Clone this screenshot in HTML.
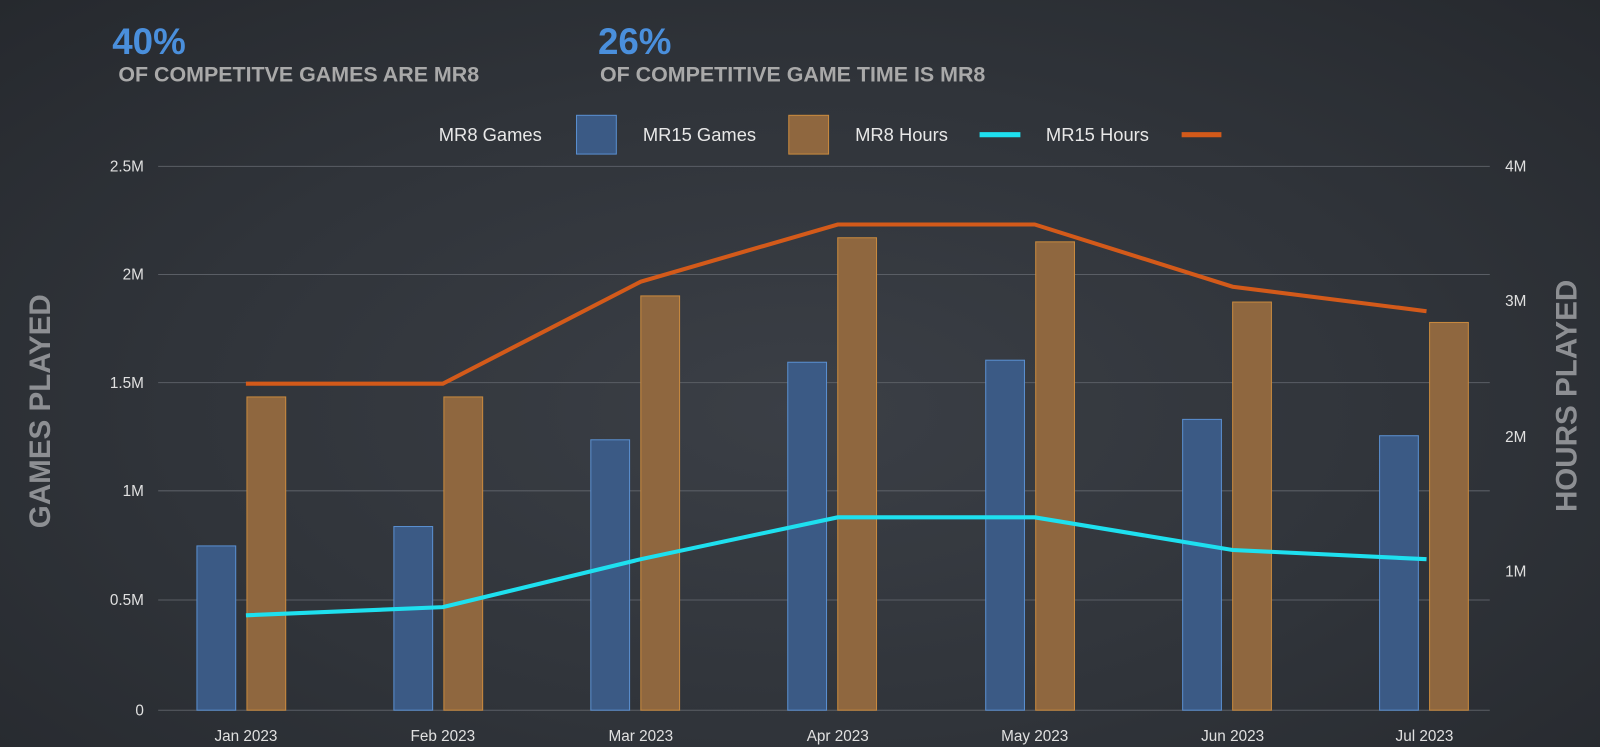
<!DOCTYPE html>
<html><head><style>
html,body{margin:0;padding:0}
body{width:1600px;height:747px;overflow:hidden;background:radial-gradient(ellipse at 50% 55%,#3b3f46 0%,#30343a 55%,#26292e 100%);font-family:"Liberation Sans",sans-serif}
</style></head><body>
<svg width="1600" height="747" xmlns="http://www.w3.org/2000/svg" style="position:absolute;left:0;top:0;font-family:'Liberation Sans',sans-serif">
<g transform="scale(1.0204)">
<text x="110" y="53" font-size="36" font-weight="bold" fill="#4a8fdc">40%</text>
<text x="116" y="80" font-size="21" font-weight="bold" fill="#a9a9a9">OF COMPETITVE GAMES ARE MR8</text>
<text x="586" y="53" font-size="36" font-weight="bold" fill="#4a8fdc">26%</text>
<text x="588" y="80" font-size="21" font-weight="bold" fill="#a9a9a9">OF COMPETITIVE GAME TIME IS MR8</text>
<g font-size="18" fill="#e8e8e8">
<text x="430" y="138">MR8 Games</text>
<rect x="565" y="113" width="39" height="38" fill="#3b5a85" stroke="#5a8fd0"/>
<text x="630" y="138">MR15 Games</text>
<rect x="773" y="113" width="39" height="38" fill="#8f673f" stroke="#c98a3e"/>
<text x="838" y="138">MR8 Hours</text>
<line x1="960" y1="132" x2="1000" y2="132" stroke="#1ee0ef" stroke-width="5"/>
<text x="1025" y="138">MR15 Hours</text>
<line x1="1158" y1="132" x2="1197" y2="132" stroke="#d35a1a" stroke-width="5"/>
</g>
<g stroke="#5a5e65" stroke-width="1">
<line x1="155" y1="163" x2="1460" y2="163"/><line x1="155" y1="269" x2="1460" y2="269"/>
<line x1="155" y1="375" x2="1460" y2="375"/><line x1="155" y1="481" x2="1460" y2="481"/>
<line x1="155" y1="588" x2="1460" y2="588"/><line x1="155" y1="696" x2="1460" y2="696"/>
</g>
<g font-size="15" fill="#e0e0e0" text-anchor="end">
<text x="141" y="168">2.5M</text><text x="141" y="274">2M</text><text x="141" y="380">1.5M</text>
<text x="141" y="486">1M</text><text x="141" y="593">0.5M</text><text x="141" y="701">0</text>
</g>
<g font-size="15" fill="#e0e0e0">
<text x="1475" y="168">4M</text><text x="1475" y="300">3M</text><text x="1475" y="433">2M</text><text x="1475" y="565">1M</text>
</g>
<g fill="#3b5a85" stroke="#5a8fd0" stroke-width="1">
<rect x="193" y="535" width="38" height="161"/><rect x="386" y="516" width="38" height="180"/>
<rect x="579" y="431" width="38" height="265"/><rect x="772" y="355" width="38" height="341"/>
<rect x="966" y="353" width="38" height="343"/><rect x="1159" y="411" width="38" height="285"/>
<rect x="1352" y="427" width="38" height="269"/>
</g>
<g fill="#8f673f" stroke="#c98a3e" stroke-width="1">
<rect x="242" y="389" width="38" height="307"/><rect x="435" y="389" width="38" height="307"/>
<rect x="628" y="290" width="38" height="406"/><rect x="821" y="233" width="38" height="463"/>
<rect x="1015" y="237" width="38" height="459"/><rect x="1208" y="296" width="38" height="400"/>
<rect x="1401" y="316" width="38" height="380"/>
</g>
<polyline fill="none" stroke="#d35a1a" stroke-width="4" points="241,376 434,376 628,276 821,220 1014,220 1208,281 1398,305"/>
<polyline fill="none" stroke="#1ee0ef" stroke-width="4" points="241,603 434,595 628,548 821,507 1014,507 1208,539 1398,548"/>
<g font-size="15" fill="#e0e0e0" text-anchor="middle">
<text x="241" y="726">Jan 2023</text><text x="434" y="726">Feb 2023</text><text x="628" y="726">Mar 2023</text>
<text x="821" y="726">Apr 2023</text><text x="1014" y="726">May 2023</text><text x="1208" y="726">Jun 2023</text>
<text x="1396" y="726">Jul 2023</text>
</g>
<text transform="translate(49,403) rotate(-90)" font-size="29" font-weight="bold" fill="#8d8f93" text-anchor="middle">GAMES PLAYED</text>
<text transform="translate(1545,388) rotate(-90)" font-size="29" font-weight="bold" fill="#8d8f93" text-anchor="middle">HOURS PLAYED</text>
</g>
</svg>
</body></html>
